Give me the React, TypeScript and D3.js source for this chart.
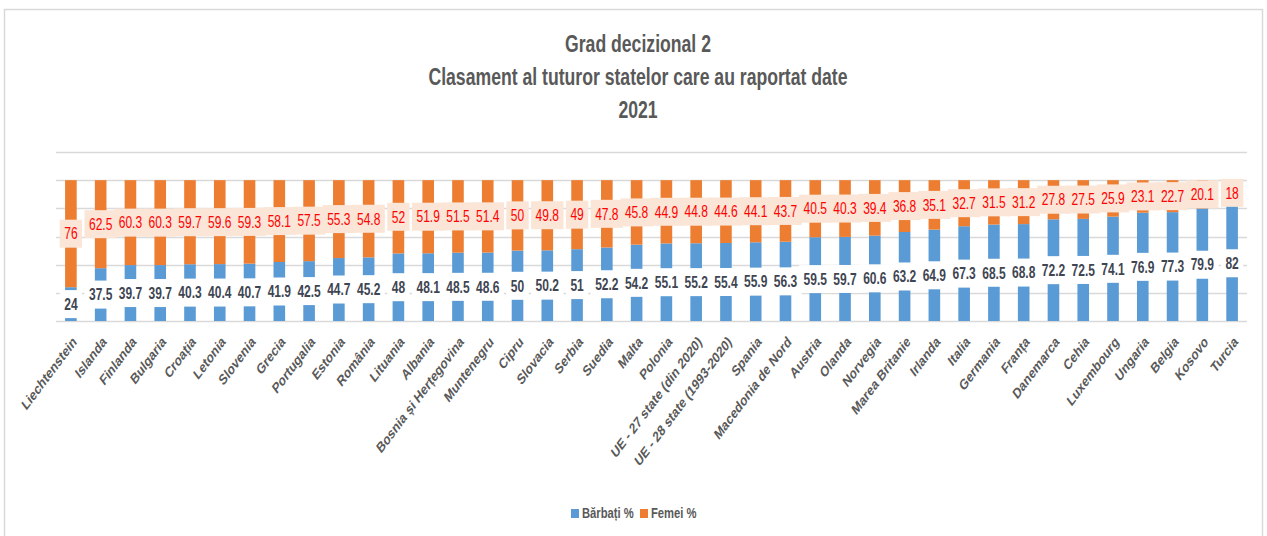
import React from "react";
import * as d3 from "d3";

const countries = [
  "Liechtenstein", "Islanda", "Finlanda", "Bulgaria", "Croația", "Letonia", "Slovenia", "Grecia",
  "Portugalia", "Estonia", "România", "Lituania", "Albania", "Bosnia și Herțegovina", "Muntenegru",
  "Cipru", "Slovacia", "Serbia", "Suedia", "Malta", "Polonia", "UE - 27 state (din 2020)",
  "UE - 28 state (1993-2020)", "Spania", "Macedonia de Nord", "Austria", "Olanda", "Norvegia",
  "Marea Britanie", "Irlanda", "Italia", "Germania", "Franța", "Danemarca", "Cehia", "Luxembourg",
  "Ungaria", "Belgia", "Kosovo", "Turcia",
];
const men = [
  24, 37.5, 39.7, 39.7, 40.3, 40.4, 40.7, 41.9, 42.5, 44.7, 45.2, 48, 48.1, 48.5, 48.6, 50, 50.2, 51,
  52.2, 54.2, 55.1, 55.2, 55.4, 55.9, 56.3, 59.5, 59.7, 60.6, 63.2, 64.9, 67.3, 68.5, 68.8, 72.2, 72.5,
  74.1, 76.9, 77.3, 79.9, 82,
];
const women = [
  76, 62.5, 60.3, 60.3, 59.7, 59.6, 59.3, 58.1, 57.5, 55.3, 54.8, 52, 51.9, 51.5, 51.4, 50, 49.8, 49,
  47.8, 45.8, 44.9, 44.8, 44.6, 44.1, 43.7, 40.5, 40.3, 39.4, 36.8, 35.1, 32.7, 31.5, 31.2, 27.8, 27.5,
  25.9, 23.1, 22.7, 20.1, 18,
];
const yTicks = [0, 20, 40, 60, 80, 100, 120];
const titleLines = ["Grad decizional 2", "Clasament al tuturor statelor care au raportat date", "2021"];
const seriesNames = ["Bărbați %", "Femei %"];

const W = 1267;
const H = 536;
const S = 0.75; // horizontal compression of the picture
const FONT = "'Liberation Sans', Arial, sans-serif";
const BLUE = "#5B9BD5";
const ORANGE = "#ED7D31";
const GRID = "#d9d9d9";
const GRAY = "#595959";

function textW(s: string, fs: number) {
  let w = 0;
  for (const c of s) w += c === "." ? 0.278 : 0.556;
  return w * fs;
}

export default function App() {
  const rows = countries.map((c, i) => ({ name: c, men: men[i], women: women[i] }));
  const stack = d3.stack<any>().keys(["men", "women"])(rows);

  const x = d3
    .scaleBand<string>()
    .domain(countries)
    .range([56 / S, 1247 / S])
    .paddingInner(0.61)
    .paddingOuter(0.305);
  const y = d3.scaleLinear().domain([0, 120]).range([321, 152]);
  const colors = [BLUE, ORANGE];
  const labelFs = 16;
  const boxH = 28;

  return (
    <svg width={W} height={H} style={{ position: "absolute", left: 0, top: 0, background: "#fff" }}>
      <rect x={4.5} y={9.5} width={1258} height={540} fill="#fff" stroke={GRID} strokeWidth={1.5} />
      <g transform={`scale(${S},1)`} fontFamily={FONT}>
        {titleLines.map((t, i) => (
          <text
            key={i}
            x={638 / S}
            y={52 + i * 33}
            textAnchor="middle"
            fontSize={23.5}
            fontWeight="bold"
            fill={GRAY}
          >
            {t}
          </text>
        ))}
        {yTicks.map((t) => (
          <line
            key={t}
            x1={56 / S}
            x2={1247 / S}
            y1={Math.round(y(t)) + 0.5}
            y2={Math.round(y(t)) + 0.5}
            stroke={GRID}
            strokeWidth={1.3}
          />
        ))}
        {stack.map((s, si) =>
          s.map((d: any, i: number) => (
            <rect
              key={`${si}-${i}`}
              x={x(countries[i])!}
              width={x.bandwidth()}
              y={y(d[1])}
              height={y(d[0]) - y(d[1])}
              fill={colors[si]}
            />
          ))
        )}
        {stack[0].map((d: any, i: number) => {
          const cx = x(countries[i])! + x.bandwidth() / 2;
          const cy = y((d[0] + d[1]) / 2);
          const lab = String(men[i]);
          const bw = textW(lab, labelFs) + 12;
          return (
            <g key={`m${i}`}>
              <rect x={cx - bw / 2} y={cy - boxH / 2} width={bw} height={boxH} fill="#fff" />
              <text
                x={cx}
                y={cy}
                dy="0.36em"
                textAnchor="middle"
                fontSize={labelFs}
                fontWeight="bold"
                fill="#404552"
              >
                {lab}
              </text>
            </g>
          );
        })}
        {stack[1].map((d: any, i: number) => {
          const cx = x(countries[i])! + x.bandwidth() / 2;
          const cy = y((d[0] + d[1]) / 2);
          const lab = String(women[i]);
          const bw = textW(lab, labelFs) + 12;
          return (
            <g key={`w${i}`}>
              <rect x={cx - bw / 2} y={cy - boxH / 2} width={bw} height={boxH} fill="#FBE5D6" />
              <text x={cx} y={cy} dy="0.36em" textAnchor="middle" fontSize={labelFs} fill="#FF0000">
                {lab}
              </text>
            </g>
          );
        })}
        {countries.map((c) => {
          const cx = x(c)! + x.bandwidth() / 2;
          return (
            <text
              key={c}
              transform={`translate(${cx + 5},${339}) rotate(-45)`}
              textAnchor="end"
              dy="0.35em"
              fontSize={15}
              fontWeight="bold"
              fill={GRAY}
            >
              {c}
            </text>
          );
        })}
        {seriesNames.map((n, i) => {
          const lx = [571, 640][i] / S;
          return (
            <g key={n}>
              <rect x={lx} y={509} width={8 / S} height={9} fill={colors[i]} />
              <text x={lx + 11 / S} y={518.5} fontSize={15} fontWeight="bold" fill={GRAY}>
                {n}
              </text>
            </g>
          );
        })}
      </g>
    </svg>
  );
}
